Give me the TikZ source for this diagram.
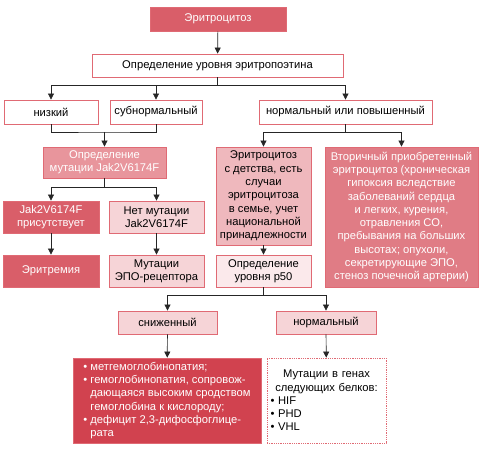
\documentclass[tikz,border=0pt]{standalone}
\usepackage{fontspec}
\setmainfont{Liberation Sans}
\usepackage{tikz}
\usetikzlibrary{arrows, arrows.meta}
\definecolor{edgered}{HTML}{E06A74}
\definecolor{darkred}{HTML}{D95E69}
\definecolor{midpink}{HTML}{E8959C}
\definecolor{childpink}{HTML}{EFB8BD}
\definecolor{secred}{HTML}{E07C85}
\definecolor{lightpink}{HTML}{F6D4D7}
\definecolor{palepink}{HTML}{FBE9EB}
\definecolor{listred}{HTML}{D1424F}

\begin{document}
\begin{tikzpicture}[x=1pt,y=-1pt,
					every node/.style = {font=\fontsize{11.2}{13.3}\selectfont, align=center, inner sep=2pt},
					>={Triangle[length=6pt,width=6pt]}]

\tikzstyle{box}=[rectangle, draw=edgered, line width=0.8pt, fill=white, text=black]
\tikzstyle{dark}=[box, fill=darkred, text=white]
\tikzstyle{light}=[box, fill=lightpink]
\tikzstyle{link}=[draw=black!85, line width=0.7pt]

\useasboundingbox (0,0) rectangle (480,454);

% levels
\node[dark, minimum width=136pt, minimum height=24pt] (eryth) at (218,19) {Эритроцитоз};
\node[box, minimum width=251pt, minimum height=23pt] (epo) at (217.5,65.5) {Определение уровня эритропоэтина};

\node[box, minimum width=94pt, minimum height=24pt] (low) at (51,112) {низкий};
\node[box, minimum width=92pt, minimum height=24pt] (subnorm) at (156,112) {субнормальный};
\node[box, minimum width=173pt, minimum height=24pt] (high) at (345.5,112) {нормальный или повышенный};

\node[box, fill=midpink, text=white, minimum width=123pt, minimum height=31pt] (jak) at (104.5,162.5) {Определение\\мутации Jak2V6174F};
\node[dark, minimum width=96pt, minimum height=32pt] (jakyes) at (51,217) {Jak2V6174F\\присутствует};
\node[light, minimum width=95pt, minimum height=32pt] (jakno) at (156.5,217) {Нет мутации\\Jak2V6174F};
\node[dark, minimum width=96pt, minimum height=32pt] (erythremia) at (51,271) {Эритремия};
\node[light, minimum width=95pt, minimum height=32pt] (epor) at (156.5,271) {Мутации\\ЭПО-рецептора};

\node[box, fill=childpink, minimum width=95pt, minimum height=98pt] (child) at (263.5,196)
	{Эритроцитоз\\с детства, есть\\случаи\\эритроцитоза\\в семье, учет\\национальной\\принадлежности};
\node[box, fill=palepink, minimum width=95pt, minimum height=32pt] (p50) at (263.5,271) {Определение\\уровня p50};
\node[box, fill=secred, text=white, minimum width=153pt, minimum height=140pt, inner sep=1pt] (second) at (401.5,217)
	{Вторичный приобретенный\\эритроцитоз (хроническая\\гипоксия вследствие\\заболеваний сердца\\и легких, курения,\\отравления СО,\\пребывания на больших\\высотах; опухоли,\\секретирующие ЭПО,\\стеноз почечной артерии)};

\node[light, minimum width=99pt, minimum height=23pt] (reduced) at (167.5,322.5) {сниженный};
\node[light, minimum width=100pt, minimum height=23pt] (normal) at (326,322.5) {нормальный};

\node[box, fill=listred, text=white, minimum width=188pt, minimum height=85pt, align=left] (causes) at (167,400.5)
	{• метгемоглобинопатия;\\• гемоглобинопатия, сопровож-\\\phantom{• }дающаяся высоким сродством\\\phantom{• }гемоглобина к кислороду;\\• дефицит 2,3-дифосфоглице-\\\phantom{• }рата};
\node[box, densely dotted, minimum width=119pt, minimum height=85pt, text width=112pt, align=left] (genes) at (326.5,400.5)
	{{\centering Мутации в генах\\следующих белков:\par}• HIF\\• PHD\\• VHL};

% connectors
\draw[link,->] (eryth) -- (epo);
\coordinate (j1) at (217.5,85);
\draw[link] (epo) -- (j1);
\draw[link,->] (j1) -| (low);
\draw[link,->] (j1) -| (subnorm);
\draw[link,->] (j1) -| (high);

\coordinate (j2) at (104.5,132);
\draw[link] (low) |- (j2) -| (subnorm);
\draw[link,->] (j2) -- (jak);

\coordinate (j3) at (345.5,132);
\draw[link] (high) -- (j3);
\draw[link,->] (j3) -| (child);
\draw[link,->] (j3) -| (second);

\coordinate (j4) at (104.5,187);
\draw[link] (jak) -- (j4);
\draw[link,->] (j4) -| (jakyes);
\draw[link,->] (j4) -| (jakno);

\draw[link,->] (jakyes) -- (erythremia);
\draw[link,->] (jakno) -- (epor);
\draw[link,->] (child) -- (p50);

\coordinate (j5) at (263.5,295);
\draw[link] (p50) -- (j5);
\draw[link,->] (j5) -| (reduced);
\draw[link,->] (j5) -| (normal);

\draw[link,->] (reduced) -- (causes);
\draw[link,->] (normal) -- (genes);
\end{tikzpicture}
\end{document}
